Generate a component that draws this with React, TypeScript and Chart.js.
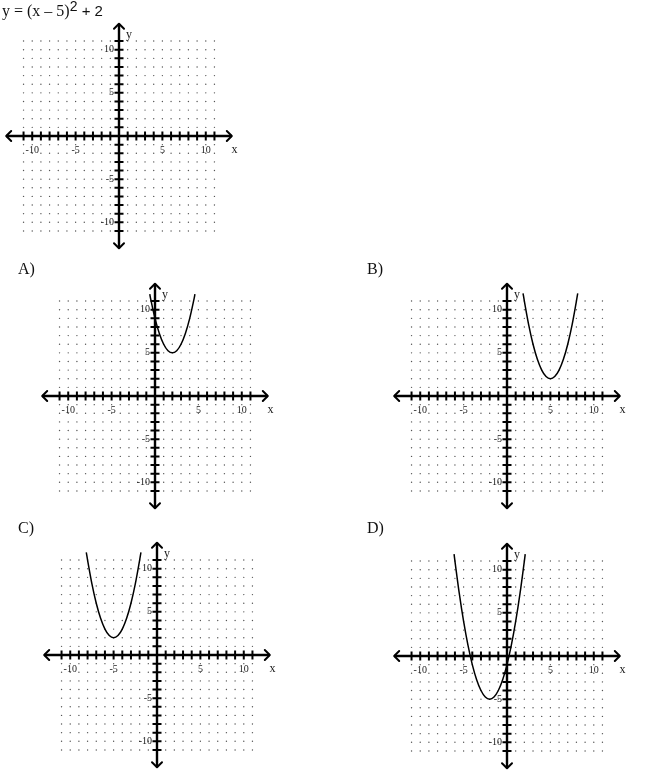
import { useEffect, useRef } from "react";
import { Chart, registerables } from "chart.js";

Chart.register(...registerables);

// grid of dots and tick marks, one per unit
const gridSteps = [-11, -10, -9, -8, -7, -6, -5, -4, -3, -2, -1, 0, 1, 2, 3, 4, 5, 6, 7, 8, 9, 10, 11];
const xTickLabels = [-10, -5, 5, 10];
const yTickLabels = [10, 5, -5, -10];
const axisEnd = 13;

// curves
const curveAX = [-0.6, -0.5, 0, 0.5, 1, 1.5, 2, 2.5, 3, 3.5, 4, 4.5, 4.6];
const curveAY = [11.8, 11.25, 9, 7.25, 6, 5.25, 5, 5.25, 6, 7.25, 9, 11.25, 11.8];

const curveBX = [1.85, 2, 2.5, 3, 3.5, 4, 4.5, 5, 5.5, 6, 6.5, 7, 7.5, 8, 8.15];
const curveBY = [11.9, 11, 8.25, 6, 4.25, 3, 2.25, 2, 2.25, 3, 4.25, 6, 8.25, 11, 11.9];

const curveCX = [-8.15, -8, -7.5, -7, -6.5, -6, -5.5, -5, -4.5, -4, -3.5, -3, -2.5, -2, -1.85];
const curveCY = [11.9, 11, 8.25, 6, 4.25, 3, 2.25, 2, 2.25, 3, 4.25, 6, 8.25, 11, 11.9];

const curveDX = [-6.1, -6, -5.5, -5, -4.5, -4, -3.5, -3, -2.5, -2, -1.5, -1, -0.5, 0, 0.5, 1, 1.5, 2, 2.1];
const curveDY = [11.8, 11, 7.25, 4, 1.25, -1, -2.75, -4, -4.75, -5, -4.75, -4, -2.75, -1, 1.25, 4, 7.25, 11, 11.8];

const SIZE = 280;
const PX_X = 9.1;
const PX_Y = 9.05;

const axisDecor = {
  id: "axisDecor",
  afterDatasetsDraw(chart: any) {
    const { ctx } = chart;
    const xs = chart.scales.x;
    const ys = chart.scales.y;
    const x0 = xs.getPixelForValue(0);
    const y0 = ys.getPixelForValue(0);
    const L = xs.getPixelForValue(-axisEnd);
    const R = xs.getPixelForValue(axisEnd);
    const T = ys.getPixelForValue(axisEnd);
    const B = ys.getPixelForValue(-axisEnd);
    const a = 5;
    ctx.save();
    ctx.strokeStyle = "#000";
    ctx.lineWidth = 2;
    ctx.lineCap = "round";
    ctx.lineJoin = "round";
    ctx.beginPath();
    ctx.moveTo(L + a, y0 - a); ctx.lineTo(L, y0); ctx.lineTo(L + a, y0 + a);
    ctx.moveTo(R - a, y0 - a); ctx.lineTo(R, y0); ctx.lineTo(R - a, y0 + a);
    ctx.moveTo(x0 - a, T + a); ctx.lineTo(x0, T); ctx.lineTo(x0 + a, T + a);
    ctx.moveTo(x0 - a, B - a); ctx.lineTo(x0, B); ctx.lineTo(x0 + a, B - a);
    ctx.stroke();

    // tick labels
    ctx.fillStyle = "#222";
    ctx.font = "10px 'Liberation Serif'";
    ctx.textAlign = "center";
    ctx.textBaseline = "top";
    xTickLabels.forEach((v) => ctx.fillText(String(v), xs.getPixelForValue(v), y0 + 9));
    ctx.textAlign = "right";
    ctx.textBaseline = "middle";
    yTickLabels.forEach((v) => ctx.fillText(String(v), x0 - 5, ys.getPixelForValue(v)));
    // axis names
    ctx.font = "12px 'Liberation Serif'";
    ctx.textAlign = "center";
    ctx.textBaseline = "top";
    ctx.fillText("x", xs.getPixelForValue(13.3), y0 + 8);
    ctx.textAlign = "left";
    ctx.textBaseline = "middle";
    ctx.fillText("y", x0 + 7, ys.getPixelForValue(11.7));
    ctx.restore();
  },
};

interface PanelProps {
  ox: number;
  oy: number;
  curveX?: number[];
  curveY?: number[];
}

const Panel = ({ ox, oy, curveX, curveY }: PanelProps) => {
  const chartRef = useRef<HTMLCanvasElement>(null);
  const chartInstance = useRef<Chart | null>(null);

  useEffect(() => {
    if (!chartRef.current) return;
    if (chartInstance.current) chartInstance.current.destroy();

    const dots: { x: number; y: number }[] = [];
    gridSteps.forEach((gx) => {
      gridSteps.forEach((gy) => {
        if (gx !== 0 && gy !== 0) dots.push({ x: gx, y: gy });
      });
    });
    const ticks = gridSteps.filter((v) => v !== 0);

    const datasets: any[] = [];
    if (curveX && curveY) {
      datasets.push({
        type: "line",
        data: curveX.map((x, i) => ({ x, y: curveY[i] })),
        borderColor: "#000",
        borderWidth: 1.5,
        pointRadius: 0,
        tension: 0.35,
        fill: false,
      });
    }
    datasets.push(
      {
        type: "line",
        data: [{ x: -axisEnd, y: 0 }, { x: axisEnd, y: 0 }],
        borderColor: "#000",
        borderWidth: 2.4,
        pointRadius: 0,
      },
      {
        type: "line",
        data: [{ x: 0, y: -axisEnd }, { x: 0, y: axisEnd }],
        borderColor: "#000",
        borderWidth: 2.4,
        pointRadius: 0,
      },
      {
        data: ticks.map((v) => ({ x: v, y: 0 })),
        pointStyle: "line",
        pointRotation: 90,
        pointRadius: 4.5,
        pointBorderWidth: 2,
        pointBorderColor: "#000",
      },
      {
        data: ticks.map((v) => ({ x: 0, y: v })),
        pointStyle: "line",
        pointRotation: 0,
        pointRadius: 4.5,
        pointBorderWidth: 2,
        pointBorderColor: "#000",
      },
      {
        data: dots,
        pointRadius: 0.7,
        pointBorderWidth: 0,
        pointBackgroundColor: "#555",
      }
    );

    const halfX = SIZE / 2 / PX_X;
    const halfY = SIZE / 2 / PX_Y;

    chartInstance.current = new Chart(chartRef.current, {
      type: "scatter",
      data: { datasets },
      options: {
        animation: false,
        responsive: false,
        events: [],
        layout: { padding: 0 },
        plugins: { legend: { display: false }, tooltip: { enabled: false } },
        scales: {
          x: { type: "linear", min: -halfX, max: halfX, display: false },
          y: { type: "linear", min: -halfY, max: halfY, display: false },
        },
      },
      plugins: [axisDecor],
    });

    return () => {
      if (chartInstance.current) {
        chartInstance.current.destroy();
        chartInstance.current = null;
      }
    };
  }, [curveX, curveY]);

  return (
    <canvas
      ref={chartRef}
      width={SIZE}
      height={SIZE}
      style={{ position: "absolute", left: ox - SIZE / 2, top: oy - SIZE / 2 }}
    />
  );
};

const labelStyle = {
  position: "absolute" as const,
  fontFamily: "'Liberation Serif', serif",
  fontSize: 16,
  lineHeight: "18px",
  color: "#111",
  zIndex: 2,
};

const App = () => {
  return (
    <div style={{ position: "absolute", left: 0, top: 0, width: 650, height: 777, background: "#fff", overflow: "hidden" }}>
      <Panel ox={119} oy={136} />
      <Panel ox={155} oy={396} curveX={curveAX} curveY={curveAY} />
      <Panel ox={507} oy={396} curveX={curveBX} curveY={curveBY} />
      <Panel ox={157} oy={655} curveX={curveCX} curveY={curveCY} />
      <Panel ox={507} oy={656} curveX={curveDX} curveY={curveDY} />
      <div style={{ ...labelStyle, left: 2, top: 2, whiteSpace: "nowrap" }}>
        y = (x – 5)
        <span style={{ fontFamily: "'Liberation Sans', sans-serif", fontSize: 14, position: "relative", top: -5 }}>2</span>
        <span style={{ fontFamily: "'Liberation Sans', sans-serif", fontSize: 15 }}> + 2</span>
      </div>
      <div style={{ ...labelStyle, left: 18, top: 260 }}>A)</div>
      <div style={{ ...labelStyle, left: 367, top: 260 }}>B)</div>
      <div style={{ ...labelStyle, left: 18, top: 519 }}>C)</div>
      <div style={{ ...labelStyle, left: 367, top: 519 }}>D)</div>
    </div>
  );
};

export default App;
